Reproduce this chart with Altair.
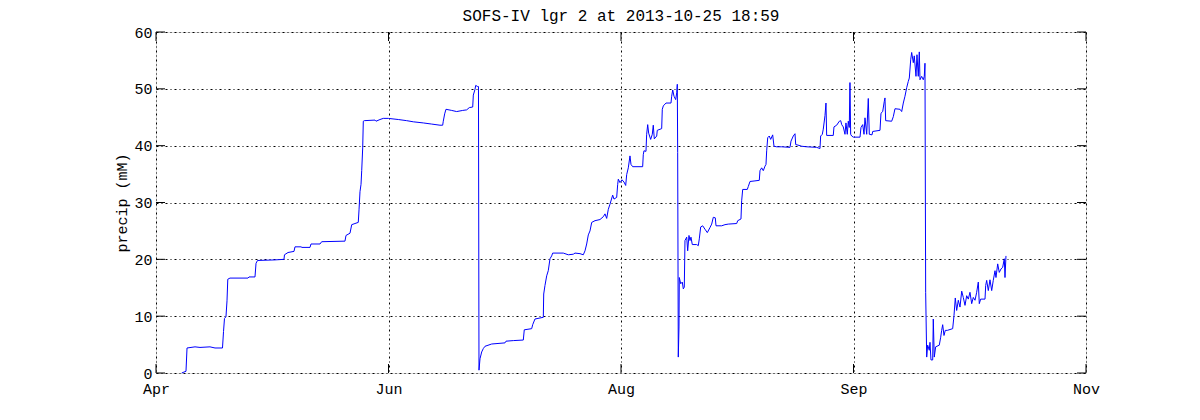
import altair as alt
import pandas as pd

# Time origin of the x axis (first tick) and tick spacing of 50 days
T0 = "2013-04-26"
TICK_DATES = ["2013-04-26", "2013-06-15", "2013-08-04", "2013-09-23", "2013-11-12"]
Y_TICKS = [0, 10, 20, 30, 40, 50, 60]

TITLE = "SOFS-IV lgr 2 at 2013-10-25 18:59"
Y_TITLE = "precip (mM)"

# Segment A: deployment start until first reset (days since T0)
seg_a_days = [5.53, 5.81, 6.45, 6.67, 8.39, 9.46, 11.61, 12.69, 14.30, 14.52,
              14.73, 15.05, 15.27, 15.44, 15.91, 19.78, 20.00, 21.29, 21.51, 21.83,
              25.59, 27.53, 27.63, 28.39, 29.68, 29.89, 31.18, 31.40, 33.12, 33.33,
              35.27, 35.63, 40.64, 40.86, 41.72, 42.09, 42.79, 43.50, 43.66, 43.87,
              44.09, 44.24, 44.45, 44.58, 44.79, 47.10, 47.31, 48.17, 48.88, 49.96,
              52.11, 53.91, 55.33, 57.48, 59.29, 61.07, 61.65, 61.78, 62.08, 62.36,
              63.59, 64.66, 65.96, 66.81, 67.38, 68.11, 68.24, 68.60, 68.75, 69.18, 69.35]
seg_a_vals = [0.0, 0.1, 0.3, 4.4, 4.6, 4.5, 4.6, 4.4, 4.4, 7.3,
              9.6, 9.9, 12.7, 16.5, 16.7, 16.7, 16.9, 16.9, 19.3, 19.8,
              19.9, 20.0, 20.8, 21.2, 21.4, 22.2, 22.2, 22.1, 22.1, 22.7,
              22.7, 23.1, 23.2, 24.2, 24.6, 26.1, 26.3, 26.5, 28.7, 31.9,
              33.2, 35.6, 39.6, 44.3, 44.4, 44.5, 44.3, 44.6, 44.8, 44.8,
              44.6, 44.4, 44.2, 44.0, 43.8, 43.6, 43.6, 44.3, 45.6, 46.4,
              46.2, 46.0, 46.2, 46.3, 46.7, 46.8, 48.9, 49.9, 50.6, 50.4, 50.4]

# Segment B: second fill
seg_b_days = [69.46, 69.68, 70.04, 70.39, 70.75, 72.19, 75.05, 75.27, 76.84, 78.99,
              79.20, 80.79, 81.01, 81.50, 83.29, 83.38, 83.65, 84.02, 84.36, 84.73,
              85.09, 85.31, 87.59, 88.67, 89.74, 90.11, 91.18, 91.89, 92.26, 92.62,
              92.97, 93.33, 93.70, 94.41, 95.48, 96.19, 96.56, 96.92, 97.27, 97.63,
              98.21, 98.49, 99.07, 99.29, 99.42, 99.78, 100.21, 100.64, 101.01, 101.22,
              101.57, 101.93, 102.15, 102.51, 104.66, 104.79, 104.94, 105.37, 105.52, 105.74,
              105.95, 106.38, 106.73, 106.94, 107.16, 107.68, 107.80, 108.75, 108.88, 109.10,
              109.68, 110.75, 110.90, 111.12, 111.40, 111.76, 111.98, 112.11]
seg_b_vals = [0.5, 2.5, 3.7, 4.3, 4.7, 5.1, 5.3, 5.6, 5.7, 5.8,
              7.6, 7.8, 8.5, 9.5, 9.8, 13.9, 15.4, 17.1, 18.0, 20.1,
              20.6, 21.1, 21.1, 20.8, 20.9, 21.1, 21.0, 20.8, 21.5, 22.7,
              24.3, 25.0, 26.5, 26.8, 27.0, 27.5, 28.0, 27.2, 28.8, 29.7,
              31.3, 30.6, 30.9, 33.2, 34.1, 33.5, 34.0, 33.6, 33.0, 34.9,
              36.1, 38.2, 36.7, 36.3, 36.3, 38.4, 39.1, 39.0, 42.0, 43.7,
              42.2, 41.1, 42.0, 43.6, 41.2, 41.7, 42.7, 43.0, 46.4, 47.0,
              47.5, 47.5, 48.7, 49.8, 48.7, 48.1, 49.3, 50.8]

# Segment C: third fill
seg_c_days = [112.19, 112.32, 112.47, 112.54, 112.84, 113.18, 113.40, 113.61, 113.76, 114.13,
              114.34, 114.62, 114.84, 115.05, 115.33, 116.28, 116.62, 116.84, 117.14, 117.57,
              118.06, 118.56, 119.14, 119.50, 119.85, 120.28, 120.43, 121.65, 122.36, 123.07,
              124.88, 125.10, 125.80, 125.95, 126.17, 127.16, 127.37, 127.74, 128.81, 129.74,
              129.89, 130.25, 130.60, 130.97, 131.18, 131.33, 131.55, 131.89, 132.19, 132.62,
              132.90, 133.48, 134.56, 136.34, 136.56, 137.05, 137.42, 137.57, 138.49, 138.86,
              139.93, 142.08, 142.79, 142.94, 143.29, 143.50, 143.87, 144.08, 144.23, 145.65,
              145.80, 146.38, 146.95, 147.25, 147.46, 147.80, 148.17, 148.38, 148.66, 148.88,
              149.09, 149.24, 149.39, 149.61, 149.96, 151.40, 151.61, 151.98, 152.26, 152.47,
              152.84, 153.18, 153.40, 153.98, 154.13, 155.70, 155.91, 156.28, 156.62, 156.77,
              156.92, 158.21, 158.56, 158.92, 160.00, 160.36, 160.71, 161.07, 161.44, 161.78,
              162.00, 162.30, 162.51, 162.86, 163.07, 163.44, 163.65, 163.93, 164.15, 164.30,
              164.66, 165.01, 165.22, 165.37]
seg_c_vals = [38.8, 2.8, 8.1, 16.8, 15.7, 16.0, 14.8, 15.1, 23.3, 23.9,
              21.5, 24.2, 23.3, 23.9, 22.6, 22.6, 22.4, 23.6, 25.7, 25.9,
              25.3, 24.7, 25.6, 26.2, 27.4, 27.3, 25.9, 25.9, 26.1, 26.2,
              26.3, 26.8, 27.1, 30.3, 32.3, 32.3, 32.8, 33.7, 33.8, 33.9,
              35.6, 36.1, 35.6, 36.4, 36.7, 39.1, 41.4, 41.7, 41.1, 41.9,
              39.9, 39.8, 39.8, 39.7, 40.8, 41.7, 42.1, 40.2, 40.0, 39.9,
              39.8, 39.7, 39.5, 41.7, 42.0, 42.9, 45.3, 47.5, 41.8, 41.8,
              43.3, 43.6, 44.3, 44.4, 43.7, 43.3, 42.0, 44.0, 42.0, 44.3,
              43.2, 51.1, 42.0, 41.7, 41.5, 41.5, 43.2, 43.7, 42.0, 44.9,
              42.0, 48.3, 42.0, 41.9, 42.5, 42.7, 45.7, 46.0, 47.8, 48.4,
              44.4, 44.3, 45.1, 46.5, 46.4, 46.0, 47.5, 48.7, 50.2, 51.3,
              51.9, 55.1, 56.4, 54.6, 55.8, 52.2, 56.0, 52.2, 56.5, 51.6,
              52.2, 51.6, 52.2, 54.5]

# Segment D: after last reset
seg_d_days = [165.52, 165.74, 165.95, 166.30, 166.45, 166.66, 167.03, 167.16, 167.37, 167.67,
              168.45, 168.75, 168.96, 169.18, 169.46, 169.74, 170.17, 171.33, 171.61, 171.89,
              172.19, 172.54, 172.90, 173.27, 173.61, 173.98, 174.34, 174.69, 175.05, 175.42,
              175.76, 176.13, 176.49, 176.84, 177.05, 177.35, 178.28, 178.43, 178.64, 178.99,
              179.35, 179.72, 180.06, 180.43, 180.64, 181.01, 181.35, 181.72, 182.08, 182.43,
              182.58, 182.79]
seg_d_vals = [14.2, 2.8, 4.9, 4.0, 5.4, 2.3, 2.3, 9.5, 2.8, 4.6,
              4.9, 6.3, 7.5, 8.5, 6.6, 7.5, 7.5, 7.8, 10.1, 13.2,
              11.0, 12.8, 11.6, 14.4, 13.3, 11.9, 13.6, 13.0, 14.2, 12.2,
              13.3, 12.8, 14.2, 16.0, 12.2, 13.0, 13.0, 15.4, 16.3, 14.5,
              16.4, 14.5, 16.3, 18.0, 16.8, 19.2, 17.7, 18.3, 18.6, 20.1,
              16.8, 20.6]

days = seg_a_days + seg_b_days + seg_c_days + seg_d_days
vals = seg_a_vals + seg_b_vals + seg_c_vals + seg_d_vals
n = min(len(days), len(vals))
times = (pd.Timestamp(T0) + pd.to_timedelta(days[:n], unit="D")).strftime("%Y-%m-%dT%H:%M:%S")
df = pd.DataFrame({"time": list(times), "precip": vals[:n], "order": list(range(n))})

xticks_df = pd.DataFrame({"time": [d + "T00:00:00" for d in TICK_DATES]})
yticks_df = pd.DataFrame({"val": Y_TICKS})

W, H = 930, 341
FONT = "Liberation Mono"
FS = 16
LFS = 15
TICKLEN = 9


def dt(s):
    y, m, d = s.split("-")
    return alt.DateTime(year=int(y), month=int(m), date=int(d))


xscale = alt.Scale(domain=[dt(TICK_DATES[0]), dt(TICK_DATES[-1])])
yscale = alt.Scale(domain=[0, 60], nice=False)

xaxis = alt.Axis(values=[dt(s) for s in TICK_DATES], format="%b", title=None,
                 grid=True, gridColor="black", gridDash=[2, 3, 1, 3], gridOpacity=1,
                 gridWidth=1, ticks=False, domain=False, labelFont=FONT,
                 labelFontSize=LFS, labelColor="black", labelPadding=8,
                 labelFlush=False, labelOverlap=False)
yaxis = alt.Axis(values=Y_TICKS, title=Y_TITLE, grid=True, gridColor="black",
                 gridDash=[2, 3, 1, 3], gridOpacity=1, gridWidth=1, ticks=False,
                 domain=False, labelFont=FONT, labelFontSize=LFS, labelColor="black",
                 labelPadding=4, titleFont=FONT, titleFontSize=LFS,
                 titleFontWeight="normal", titleColor="black", titleX=-27,
                 titleY=H / 2, titleAngle=-90, titleBaseline="bottom", titleAlign="center")

line = alt.Chart(df).mark_line(color="#0000ff", strokeWidth=1).encode(
    x=alt.X("time:T", scale=xscale, axis=xaxis),
    y=alt.Y("precip:Q", scale=yscale, axis=yaxis),
    order="order:Q",
)

xt_bottom = alt.Chart(xticks_df).mark_rule(color="black", strokeWidth=1).encode(
    x=alt.X("time:T", scale=xscale), y=alt.value(H), y2=alt.value(H - TICKLEN))
xt_top = alt.Chart(xticks_df).mark_rule(color="black", strokeWidth=1).encode(
    x=alt.X("time:T", scale=xscale), y=alt.value(0), y2=alt.value(TICKLEN))
yt_left = alt.Chart(yticks_df).mark_rule(color="black", strokeWidth=1).encode(
    y=alt.Y("val:Q", scale=yscale), x=alt.value(0), x2=alt.value(TICKLEN))
yt_right = alt.Chart(yticks_df).mark_rule(color="black", strokeWidth=1).encode(
    y=alt.Y("val:Q", scale=yscale), x=alt.value(W - TICKLEN), x2=alt.value(W))

chart = alt.layer(line, xt_bottom, xt_top, yt_left, yt_right).properties(
    width=W, height=H,
    title=alt.TitleParams(TITLE, font=FONT, fontSize=FS, fontWeight="normal",
                          color="black", anchor="middle", offset=1),
    autosize=alt.AutoSizeParams(type="none"),
    padding={"left": 148, "top": 24, "right": 100, "bottom": 30},
).configure_view(stroke="black", strokeWidth=1).configure(background="white")

chart.save("out.html", embed_options={"renderer": "svg", "actions": False})
